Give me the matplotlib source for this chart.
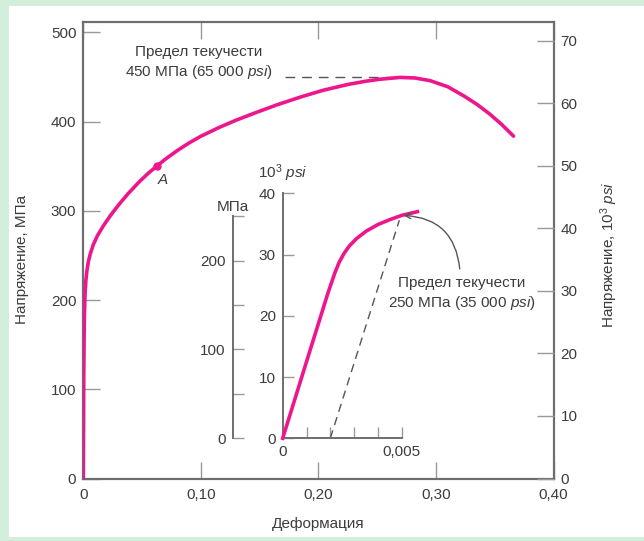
import numpy as np
import matplotlib
matplotlib.use("Agg")
from matplotlib import pyplot as plt
from matplotlib.patches import Rectangle

plt.rcParams['font.family'] = ['Liberation Sans', 'DejaVu Sans']
plt.rcParams['mathtext.fontset'] = 'custom'
plt.rcParams['mathtext.rm'] = 'Liberation Sans'
plt.rcParams['mathtext.it'] = 'Liberation Sans:italic'

# full stress-strain curve (strain, MPa)
strain = [0.0, 0.0002, 0.0004, 0.0007, 0.001, 0.0015, 0.0022, 0.003, 0.0043, 0.006,
          0.0085, 0.012, 0.017, 0.023, 0.030, 0.038, 0.048, 0.055, 0.0625, 0.070,
          0.080, 0.090, 0.100, 0.115, 0.130, 0.1476, 0.165, 0.185, 0.204, 0.225,
          0.240, 0.2525, 0.2695, 0.282, 0.295, 0.310, 0.3237, 0.335, 0.346, 0.356,
          0.366]
stress = [0.0, 60, 115, 160, 185, 207, 222, 232, 243, 252,
          262, 272, 283, 294.5, 306.5, 319, 333, 341.7, 350, 358,
          367.5, 376, 383.5, 393, 401.5, 410.4, 418.8, 427.5, 435, 441.5,
          445.1, 447.4, 449.4, 448.8, 445.8, 439, 428.7, 419.1, 408.1, 396.6,
          383.6]
point_a = (0.0625, 350)
uts_line_x = [0.172, 0.27]
uts_mpa = 450

# initial portion (strain, ksi)
strain_small = [0.0, 0.0010, 0.0019, 0.0022, 0.00238, 0.00258, 0.0028, 0.0031,
                0.0035, 0.0040, 0.0045, 0.0050, 0.00566]
stress_small = [0.0, 12.5, 23.7, 27.1, 28.8, 30.2, 31.4, 32.6,
                33.8, 34.9, 35.7, 36.4, 37.0]
offset_x = [0.002, 0.0049]
offset_ksi = [0.0, 35.6]

main_ticks = [0, 0.10, 0.20, 0.30, 0.40]
main_ticklabels = ['0', '0,10', '0,20', '0,30', '0,40']

pink = '#ee168c'
axis_gray = '#6e6e6e'
text_gray = '#3c3c3c'

W, H = 644, 541
fig = plt.figure(figsize=(W / 100, H / 100), dpi=100)
fig.patch.set_facecolor('#d3eedb')
# white panel behind everything
panel = Rectangle((9 / W, 4 / H), 1, 1 - 10 / H, transform=fig.transFigure,
                  facecolor='white', edgecolor='none', zorder=-10)
fig.add_artist(panel)


def px(x0, y0, x1, y1):
    return [x0 / W, 1 - y1 / H, (x1 - x0) / W, (y1 - y0) / H]


ax = fig.add_axes(px(83.3, 22, 553.5, 478.5))
ax.set_facecolor('none')
ax.plot(strain, stress, color=pink, lw=2.6, solid_capstyle='round',
        solid_joinstyle='round', zorder=3)
ax.plot(*point_a, 'o', color=pink, ms=5, zorder=4)
ax.text(point_a[0] + 0.001, point_a[1] - 15, 'A', style='italic', fontsize=11,
        color=text_gray, ha='left', va='center')
ax.plot(uts_line_x, [uts_mpa, uts_mpa], color='#555555', lw=1, dashes=(7, 5))
ax.text(0.098, 466, 'Предел текучести\n450 МПа (65 000 $\\mathit{psi}$)', fontsize=11,
        color=text_gray, ha='center', va='center', linespacing=1.3)

ax.set_xlim(0, 0.40)
ax.set_ylim(0, 511.5)
ax.set_xticks(main_ticks)
ax.set_xticklabels(main_ticklabels)
ax.set_yticks([0, 100, 200, 300, 400, 500])
ax.tick_params(direction='in', length=12, width=1, color='#999999', labelsize=11,
               labelcolor=text_gray, pad=5, top=True)
ax.tick_params(axis='x', pad=7)
for s in ax.spines.values():
    s.set_color(axis_gray)
    s.set_linewidth(1.6)
ax.set_xlabel('Деформация', fontsize=11, color=text_gray)
ax.xaxis.set_label_coords(0.5, -0.085)
ax.set_ylabel('Напряжение, МПа', fontsize=11, color=text_gray)
ax.yaxis.set_label_coords(-0.115, 0.48)

ax2 = ax.twinx()
ax2.set_ylim(0, 73.0)
ax2.set_yticks(range(0, 80, 10))
ax2.tick_params(direction='in', length=12, width=1, color='#999999', labelsize=11,
                labelcolor=text_gray, pad=5)
for s in ax2.spines.values():
    s.set_visible(False)
ax2.set_ylabel('Напряжение, 10$^3$ $\\mathit{psi}$', fontsize=11, color=text_gray)
ax2.yaxis.set_label_coords(1.095, 0.49)

# inset with the initial part of the curve
axi = fig.add_axes(px(282.7, 193.3, 401.7, 438.3))
axi.set_facecolor('none')
axi.plot(strain_small, stress_small, color=pink, lw=2.6, clip_on=False,
         solid_joinstyle='round', zorder=3)
axi.plot(offset_x, offset_ksi, color='#555555', lw=1, dashes=(6, 4), clip_on=False)
axi.set_xlim(0, 0.005)
axi.set_ylim(0, 40)
axi.set_xticks([0, 0.005])
axi.set_xticklabels(['0', '0,005'])
axi.set_xticks(np.arange(0.001, 0.005, 0.001), minor=True)
axi.set_yticks([0, 10, 20, 30, 40])
axi.tick_params(which='both', direction='in', length=8, width=1, color='#999999',
                labelsize=11, labelcolor=text_gray, pad=5)
for side in ['top', 'right']:
    axi.spines[side].set_visible(False)
for side in ['left', 'bottom']:
    axi.spines[side].set_color(axis_gray)
    axi.spines[side].set_linewidth(1.4)
axi.text(0.0, 41.6, '10$^3$ $\\mathit{psi}$', fontsize=11, color=text_gray,
         ha='center', va='bottom')

mpa = axi.secondary_yaxis(-50 / 119, functions=(lambda k: k * 6.895, lambda m: m / 6.895))
mpa.set_yticks([0, 100, 200])
mpa.set_yticks([50, 150, 250], minor=True)
mpa.yaxis.set_minor_formatter(plt.NullFormatter())
mpa.tick_params(which='both', direction='in', length=8, width=1, color='#999999',
                labelsize=11, labelcolor=text_gray, pad=5)
mpa.spines['left'].set_bounds(0, 250)
mpa.spines['left'].set_color(axis_gray)
mpa.spines['left'].set_linewidth(1.4)
axi.text(-50 / 119, 0.945, 'МПа', transform=axi.transAxes, fontsize=11,
         color=text_gray, ha='center', va='center')

axi.annotate('', xy=(0.00497, 36.4), xytext=(0.00745, 27.2),
             arrowprops=dict(arrowstyle='->', color='#555555', lw=1,
                             connectionstyle='arc3,rad=0.45'), annotation_clip=False)
axi.text(0.00753, 23.5, 'Предел текучести\n250 МПа (35 000 $\\mathit{psi}$)', fontsize=11,
         color=text_gray, ha='center', va='center', linespacing=1.3)

fig.savefig('out.png', dpi=100, facecolor=fig.get_facecolor())
